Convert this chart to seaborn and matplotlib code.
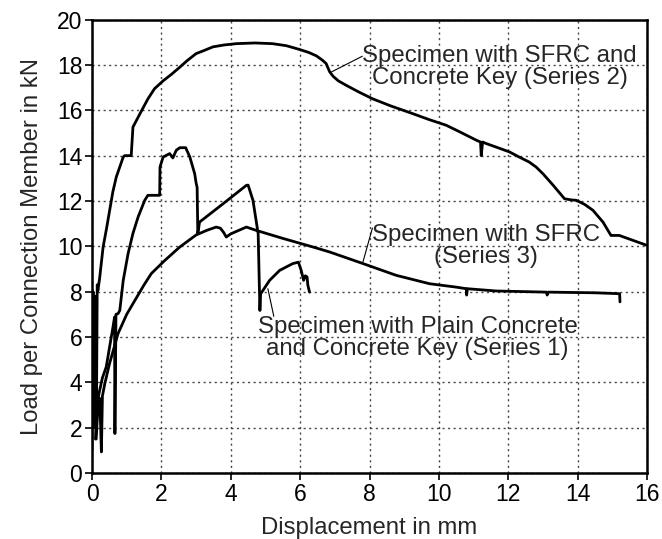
import matplotlib
matplotlib.use("Agg")
import matplotlib.pyplot as plt
import seaborn as sns
import pandas as pd

# Series 2: SFRC + concrete key
x2 = [0.0, 0.03, 0.05, 0.07, 0.09, 0.11, 0.13, 0.15, 0.17, 0.22, 0.32, 0.42, 0.51, 0.6, 0.7, 0.8, 0.9,
      0.94, 1.13, 1.18, 1.4, 1.61, 1.8, 2.05, 2.3, 2.53, 2.75, 3.0, 3.25, 3.49, 3.8, 4.16, 4.7, 5.2,
      5.6, 5.99, 6.25, 6.47, 6.65, 6.75, 6.85, 6.95, 7.1, 7.33, 7.7, 8.1, 8.6, 9.25, 9.7, 10.21, 10.6,
      11.08, 11.2, 11.22, 11.26, 11.37, 11.7, 12.04, 12.3, 12.6, 12.8, 13.0, 13.29, 13.62, 13.8, 13.96,
      14.2, 14.44, 14.73, 14.96, 15.2, 15.6, 16.0]
y2 = [1.0, 8.0, 2.0, 7.0, 2.5, 7.8, 3.2, 8.3, 8.06, 8.6, 9.97, 10.8, 11.6, 12.4, 13.06, 13.5, 13.94,
      14.0, 14.0, 15.26, 15.9, 16.5, 16.95, 17.3, 17.6, 17.9, 18.2, 18.5, 18.65, 18.8, 18.88, 18.94,
      18.97, 18.94, 18.85, 18.68, 18.55, 18.4, 18.2, 18.06, 17.7, 17.5, 17.3, 17.1, 16.8, 16.5, 16.2,
      15.85, 15.6, 15.34, 15.05, 14.68, 14.6, 14.0, 14.6, 14.53, 14.35, 14.16, 13.95, 13.72, 13.5,
      13.2, 12.7, 12.1, 12.05, 12.03, 11.85, 11.59, 11.07, 10.48, 10.48, 10.26, 10.04]

# Series 1: plain concrete + concrete key
x1 = [0.1, 0.13, 0.2, 0.3, 0.41, 0.5, 0.6, 0.65, 0.66, 0.69, 0.75, 0.8, 0.9, 1.04, 1.18, 1.33, 1.52,
      1.61, 1.95, 1.96, 2.05, 2.24, 2.33, 2.43, 2.53, 2.7, 2.82, 2.96, 3.0, 3.03, 3.05, 3.1, 3.78,
      4.45, 4.5, 4.64, 4.79, 4.82, 4.84, 4.86, 5.12, 5.41, 5.79, 5.95, 6.03, 6.1, 6.15, 6.2, 6.22, 6.27]
y1 = [1.5, 2.77, 3.5, 4.2, 4.68, 5.5, 6.4, 6.88, 1.74, 7.0, 7.03, 7.17, 8.5, 9.68, 10.57, 11.3, 12.03,
      12.25, 12.25, 13.5, 13.94, 14.09, 13.9, 14.24, 14.35, 14.35, 13.94, 13.2, 12.8, 12.6, 10.56,
      11.07, 11.88, 12.69, 12.7, 12.03, 10.55, 8.5, 7.17, 7.9, 8.5, 8.94, 9.24, 9.3, 8.94, 8.5, 8.7,
      8.65, 8.3, 7.98]

# Series 3: SFRC
x3 = [0.12, 0.17, 0.22, 0.25, 0.27, 0.3, 0.37, 0.5, 0.75, 1.0, 1.23, 1.5, 1.71, 2.1, 2.53, 3.0, 3.3,
      3.58, 3.7, 3.8, 3.87, 4.0, 4.45, 4.74, 5.5, 6.37, 6.85, 7.81, 8.77, 9.73, 10.5, 10.79, 10.8,
      10.82, 11.65, 13.1, 13.12, 13.15, 14.5, 15.21, 15.22]
y3 = [1.5, 2.9, 3.3, 2.0, 0.93, 3.4, 3.95, 4.8, 6.15, 7.0, 7.6, 8.3, 8.8, 9.38, 9.97, 10.5, 10.7,
      10.85, 10.8, 10.6, 10.41, 10.55, 10.85, 10.7, 10.35, 9.97, 9.75, 9.24, 8.72, 8.35, 8.2, 8.13,
      7.85, 8.13, 8.03, 7.98, 7.85, 7.98, 7.95, 7.91, 7.55]

x_ticks = [0, 2, 4, 6, 8, 10, 12, 14, 16]
y_ticks = [0, 2, 4, 6, 8, 10, 12, 14, 16, 18, 20]

labels = ["Specimen with SFRC and\nConcrete Key (Series 2)",
          "Specimen with Plain Concrete\nand Concrete Key (Series 1)",
          "Specimen with SFRC\n(Series 3)"]

sns.set_style("ticks")
plt.rcParams['font.family'] = ['Liberation Sans', 'DejaVu Sans']

df = pd.concat([
    pd.DataFrame({"x": x2, "y": y2, "s": "S2", "o": range(len(x2))}),
    pd.DataFrame({"x": x1, "y": y1, "s": "S1", "o": range(len(x1))}),
    pd.DataFrame({"x": x3, "y": y3, "s": "S3", "o": range(len(x3))}),
])

fig = plt.figure(figsize=(6.62, 5.39), dpi=100)
ax = fig.add_axes([0.139, 0.1224, 0.8384, 0.8412])

sns.lineplot(data=df, x="x", y="y", units="s", estimator=None, sort=False,
             color="black", linewidth=2.0, ax=ax)

ax.set_xlim(0, 16)
ax.set_ylim(0, 20)
ax.set_xticks(x_ticks)
ax.set_yticks(y_ticks)
ax.grid(True, linestyle=(0, (1.5, 2.5)), color="#444444", linewidth=1.0)
ax.set_axisbelow(True)
for sp in ax.spines.values():
    sp.set_linewidth(1.8)
    sp.set_color("black")
    sp.set_visible(True)
ax.tick_params(direction="out", length=5, width=1.2, labelsize=16.5, colors="black", pad=2)
ax.set_xlabel("Displacement in mm", fontsize=17.2, labelpad=8)
ax.set_ylabel("Load per Connection Member in kN", fontsize=17.2, labelpad=10)

fs = 17.3
ax.annotate(labels[0], xy=(6.9, 17.69), xytext=(11.75, 17.9), fontsize=fs, ha="center", va="center",
            linespacing=1.0,
            arrowprops=dict(arrowstyle="-", color="black", lw=0.8, shrinkA=0, shrinkB=0,
                            relpos=(0.0, 0.75)),
            bbox=dict(boxstyle="square,pad=0", fc="none", ec="none"))
ax.annotate(labels[2], xy=(7.81, 9.31), xytext=(11.37, 10.03), fontsize=fs, ha="center", va="center",
            linespacing=1.0,
            arrowprops=dict(arrowstyle="-", color="black", lw=0.8, shrinkA=0, shrinkB=0,
                            relpos=(0.0, 0.9)),
            bbox=dict(boxstyle="square,pad=0", fc="none", ec="none"))
ax.annotate(labels[1], xy=(5.07, 8.13), xytext=(9.39, 5.94), fontsize=fs, ha="center", va="center",
            linespacing=1.0,
            arrowprops=dict(arrowstyle="-", color="black", lw=0.8, shrinkA=0, shrinkB=0,
                            relpos=(0.05, 1.0)),
            bbox=dict(boxstyle="square,pad=0", fc="none", ec="none"))

fig.savefig("out.png", dpi=100)
